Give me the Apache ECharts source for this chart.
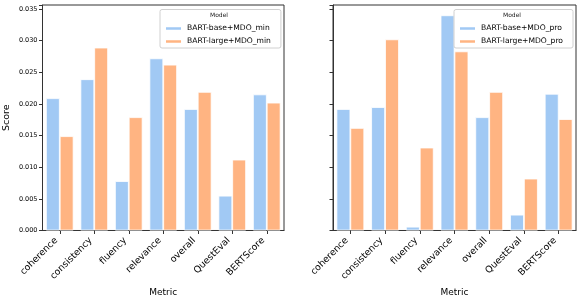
<!DOCTYPE html>
<html><head><meta charset="utf-8">
<script src="https://cdn.jsdelivr.net/npm/echarts@6/dist/echarts.min.js"></script>
<style>html,body{margin:0;padding:0;background:#fff}#c{width:581px;height:302px}</style>
</head><body><div id="c"></div>
<script>
const categories = ['coherence','consistency','fluency','relevance','overall','QuestEval','BERTScore'];
const yTicks = [0, 0.005, 0.010, 0.015, 0.020, 0.025, 0.030, 0.035];
const baseMin = [0.0209, 0.0239, 0.0078, 0.0272, 0.0192, 0.0055, 0.0215];
const largeMin = [0.0149, 0.0289, 0.0179, 0.0262, 0.0219, 0.0112, 0.0202];
const basePro = [0.0192, 0.0195, 0.0006, 0.0340, 0.0179, 0.0025, 0.0216];
const largePro = [0.0162, 0.0302, 0.0131, 0.0283, 0.0219, 0.0082, 0.0176];
const seriesNames = ['BART-base+MDO_min','BART-large+MDO_min','BART-base+MDO_pro','BART-large+MDO_pro'];

const BLUE = '#a1c9f4', ORANGE = '#ffb482';
const FONT = 'DejaVu Sans';
const chart = echarts.init(document.getElementById('c'), null, {renderer:'canvas'});

function xAxis(idx){
  return {type:'category', gridIndex:idx, data:categories, boundaryGap:true,
    name:'Metric', nameLocation:'middle', nameGap:55,
    nameTextStyle:{fontFamily:FONT, fontSize:9, color:'#000'},
    axisLine:{show:true, lineStyle:{color:'#333', width:1}},
    axisTick:{show:true, alignWithLabel:true, interval:0, length:3.5, lineStyle:{color:'#333'}},
    axisLabel:{interval:0, rotate:45, fontFamily:FONT, fontSize:9.3, color:'#000', margin:5, padding:[0,5,0,0]},
    splitLine:{show:false}};
}
function yAxis(idx, showLabels){
  return {type:'value', gridIndex:idx, min:0, max:0.03563, interval:0.005,
    name: showLabels ? 'Score' : '', nameLocation:'middle', nameGap:31,
    nameTextStyle:{fontFamily:FONT, fontSize:9.5, color:'#000'},
    axisLine:{show:true, lineStyle:{color:'#333', width:1}},
    axisTick:{show:true, length:3.5, lineStyle:{color:'#333'}},
    axisLabel:{show:showLabels, fontFamily:FONT, fontSize:6.5, color:'#000', margin:5,
      formatter:v => yTicks.some(t=>Math.abs(t-v)<1e-9) ? v.toFixed(3) : ''},
    splitLine:{show:false}};
}
function bar(name, data, color, idx){
  return {type:'bar', name, data, xAxisIndex:idx, yAxisIndex:idx,
    barWidth:'40%', barGap:'0%',
    itemStyle:{color, borderColor:'#fff', borderWidth:0.8}};
}
function legend(names, left, width){
  return {show:true, orient:'vertical', left, top:9.5, width, data:names,
    itemWidth:17, itemHeight:4.5, itemGap:4, padding:[14.5,10,2,4],
    borderColor:'#d0d0d0', borderWidth:1, borderRadius:2, backgroundColor:'rgba(255,255,255,0.8)',
    textStyle:{fontFamily:FONT, fontSize:7.6, color:'#000', lineHeight:9},
    icon:'rect', z:3};
}

chart.setOption({
  animation:false,
  backgroundColor:'#fff',
  grid:[
    {left:42.5, top:5, width:241.5, height:228, show:true, borderColor:'#333', borderWidth:1, backgroundColor:'transparent'},
    {left:333, top:5, width:243, height:228, show:true, borderColor:'#333', borderWidth:1, backgroundColor:'transparent'}
  ],
  xAxis:[xAxis(0), xAxis(1)],
  yAxis:[yAxis(0,true), yAxis(1,false)],
  legend:[legend([seriesNames[0],seriesNames[1]],160), legend([seriesNames[2],seriesNames[3]],454)],
  series:[
    bar(seriesNames[0], baseMin, BLUE, 0),
    bar(seriesNames[1], largeMin, ORANGE, 0),
    bar(seriesNames[2], basePro, BLUE, 1),
    bar(seriesNames[3], largePro, ORANGE, 1)
  ],
  graphic:[
    {type:'text', left:210, top:12, z:100, zlevel:1, style:{text:'Model', font:'6px "DejaVu Sans"', fill:'#222'}},
    {type:'text', left:503, top:12, z:100, zlevel:1, style:{text:'Model', font:'6px "DejaVu Sans"', fill:'#222'}}
  ]
});
</script></body></html>
